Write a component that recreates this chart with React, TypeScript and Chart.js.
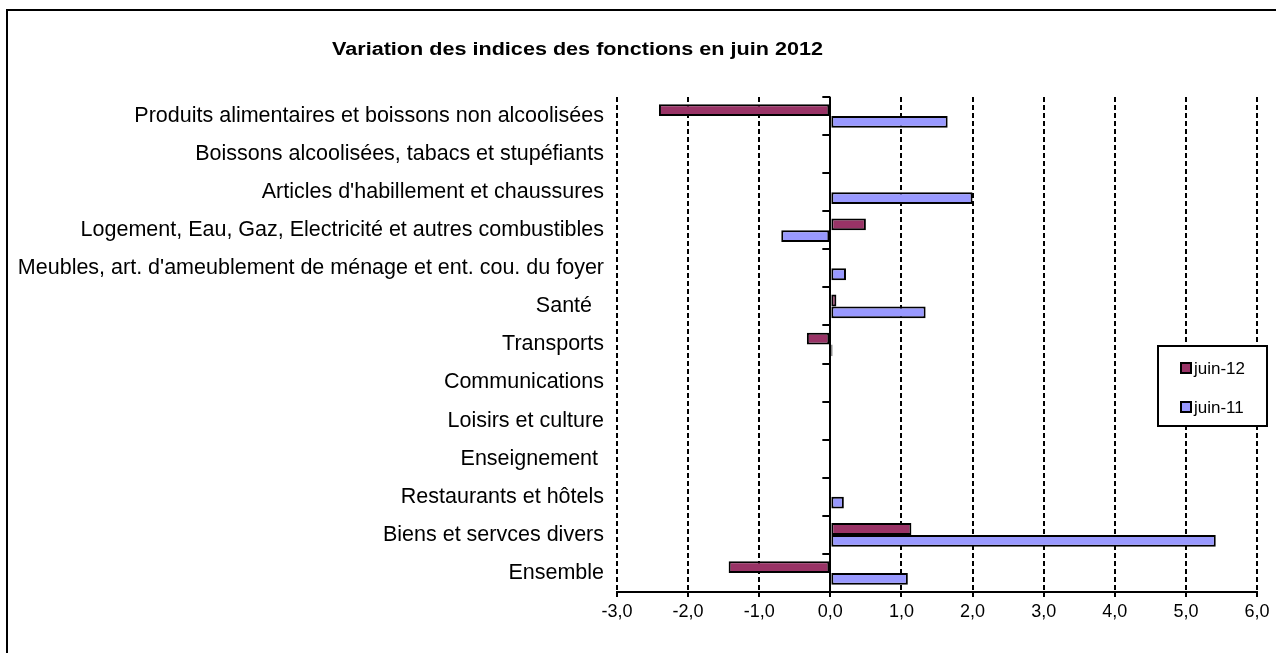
import React, { useEffect, useRef } from "react";
import { Chart, registerables } from "chart.js";

Chart.register(...registerables);

const chartTitle = "Variation des indices des fonctions en juin 2012";

const categories = [
  "Produits alimentaires et boissons non alcoolisées",
  "Boissons alcoolisées, tabacs et stupéfiants",
  "Articles d'habillement et chaussures",
  "Logement, Eau, Gaz, Electricité et autres combustibles",
  "Meubles, art. d'ameublement de ménage et ent. cou. du foyer",
  "Santé  ",
  "Transports",
  "Communications",
  "Loisirs et culture",
  "Enseignement ",
  "Restaurants et hôtels",
  "Biens et servces divers",
  "Ensemble",
];

const seriesLabels = ["juin-12", "juin-11"];
const seriesColors = ["#993366", "#9999FF"];

const juin12 = [-2.41, 0, 0, 0.5, 0, 0.085, -0.33, 0, 0, 0, 0, 1.14, -1.43];
const juin11 = [1.65, 0, 2.0, -0.69, 0.22, 1.34, 0.03, 0, 0, 0, 0.19, 5.42, 1.09];

const xMin = -3;
const xMax = 6;
const xStep = 1;

const FONT = '"Liberation Sans", Arial, sans-serif';

const decorPlugin = {
  id: "decor",
  afterDraw(chart: any) {
    const ctx = chart.ctx as CanvasRenderingContext2D;
    const W = chart.width;
    const H = chart.height;
    ctx.save();
    // outer frame (top & left visible)
    ctx.strokeStyle = "#000";
    ctx.lineWidth = 2;
    ctx.beginPath();
    ctx.moveTo(7, H + 2);
    ctx.lineTo(7, 10);
    ctx.lineTo(W + 2, 10);
    ctx.stroke();

    // title (horizontally stretched like the original)
    ctx.fillStyle = "#000";
    ctx.font = `bold 18px ${FONT}`;
    ctx.textAlign = "left";
    ctx.textBaseline = "alphabetic";
    const tw = ctx.measureText(chartTitle).width;
    const targetW = 491;
    ctx.save();
    ctx.translate(332, 54.5);
    ctx.scale(targetW / tw, 1);
    ctx.fillText(chartTitle, 0, 0);
    ctx.restore();

    // small category ticks on the zero axis
    const xs = chart.scales.x;
    const ys = chart.scales.y;
    const x0 = xs.getPixelForValue(0);
    ctx.strokeStyle = "#000";
    ctx.lineWidth = 2;
    ctx.beginPath();
    for (let i = 0; i <= categories.length; i++) {
      const y = Math.round(ys.getPixelForValue(i - 0.5));
      ctx.moveTo(x0 - 8, y);
      ctx.lineTo(x0, y);
    }
    ctx.stroke();

    // legend
    const lx = 1158, ly = 346, lw = 109, lh = 80;
    ctx.fillStyle = "#fff";
    ctx.fillRect(lx, ly, lw, lh);
    ctx.strokeStyle = "#000";
    ctx.lineWidth = 2;
    ctx.strokeRect(lx, ly, lw, lh);
    ctx.font = `17px ${FONT}`;
    ctx.textBaseline = "middle";
    chart.data.datasets.forEach((ds: any, i: number) => {
      const cy = ly + 22 + i * 39;
      ctx.fillStyle = ds.backgroundColor;
      ctx.fillRect(1181, cy - 5, 10, 10);
      ctx.strokeStyle = "#000";
      ctx.lineWidth = 2;
      ctx.strokeRect(1181, cy - 5, 10, 10);
      ctx.fillStyle = "#000";
      ctx.fillText(ds.label, 1194, cy + 1);
    });
    ctx.restore();
  },
};

export default function App() {
  const ref = useRef<HTMLCanvasElement | null>(null);

  useEffect(() => {
    if (!ref.current) return;
    const chart = new Chart(ref.current, {
      type: "bar",
      data: {
        labels: categories,
        datasets: [
          {
            label: seriesLabels[0],
            data: juin12,
            backgroundColor: seriesColors[0],
            borderColor: "#000",
            borderWidth: 2,
            borderSkipped: false,
            categoryPercentage: 0.62,
            barPercentage: 1.0,
          },
          {
            label: seriesLabels[1],
            data: juin11,
            backgroundColor: seriesColors[1],
            borderColor: "#000",
            borderWidth: 2,
            borderSkipped: false,
            categoryPercentage: 0.62,
            barPercentage: 1.0,
          },
        ],
      },
      options: {
        indexAxis: "y",
        responsive: false,
        maintainAspectRatio: false,
        animation: false,
        layout: { padding: { top: 97, right: 19, left: 0, bottom: 0 } },
        plugins: {
          legend: { display: false },
          title: { display: false },
          tooltip: { enabled: false },
        },
        scales: {
          x: {
            type: "linear",
            min: xMin,
            max: xMax,
            ticks: {
              stepSize: xStep,
              color: "#000",
              font: { family: FONT, size: 18 },
              padding: 4,
              callback: (v: any) => Number(v).toFixed(1).replace(".", ","),
            },
            grid: {
              color: "#000",
              lineWidth: 2,
              tickLength: 5,
              tickColor: "#000",
              tickWidth: 2,
              tickBorderDash: [],
            },
            border: {
              display: true,
              color: "#000",
              width: 2,
              dash: (c: any) => (c.type === "tick" && c.tick && c.tick.value !== 0 ? [5, 3] : []),
            },
            afterFit: (scale: any) => {
              scale.height = 61;
            },
          },
          y: {
            type: "category",
            grid: { display: false, drawTicks: false },
            border: { display: false },
            ticks: {
              color: "#000",
              font: { family: FONT, size: 21.5 },
              padding: 13,
              autoSkip: false,
            },
            afterFit: (scale: any) => {
              scale.width = 617;
            },
          },
        },
      },
      plugins: [decorPlugin],
    } as any);
    return () => chart.destroy();
  }, []);

  return (
    <canvas
      ref={ref}
      width={1276}
      height={653}
      style={{ position: "absolute", left: 0, top: 0, width: 1276, height: 653 }}
    />
  );
}
